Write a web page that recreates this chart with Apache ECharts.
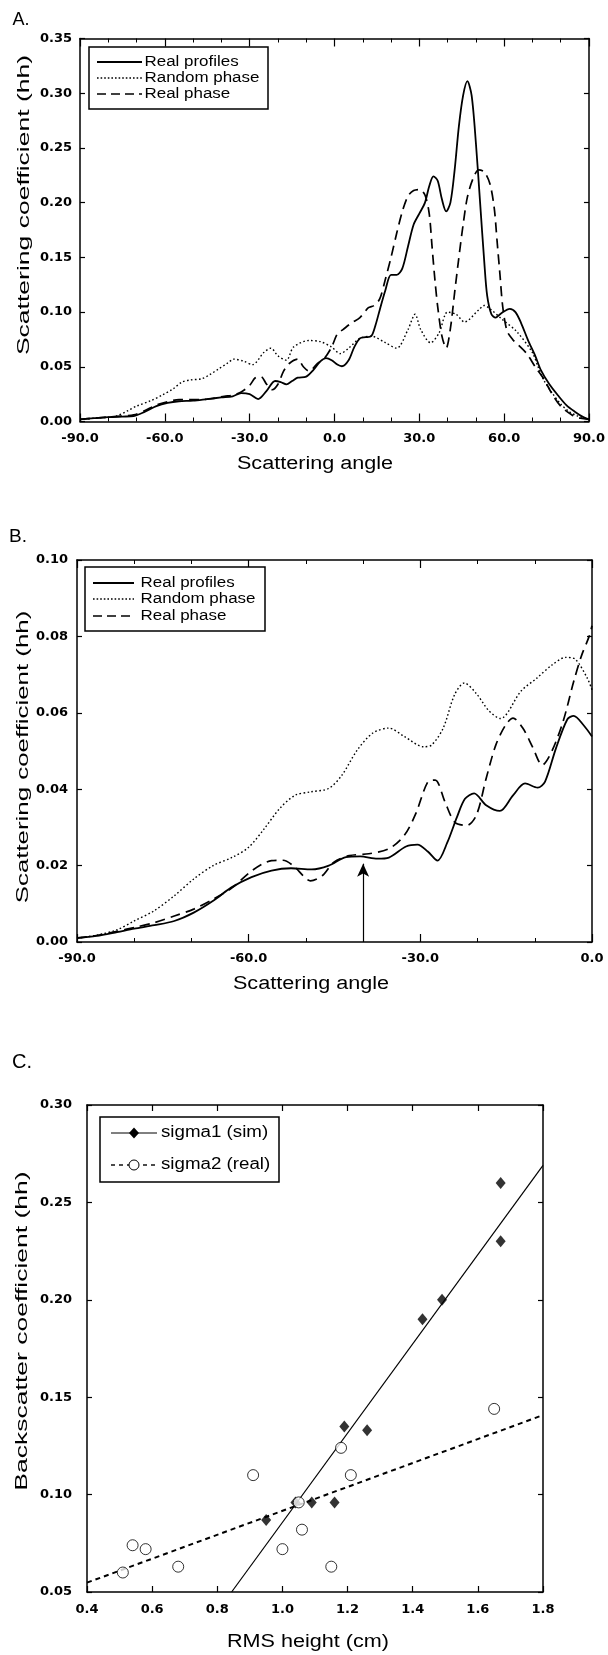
<!DOCTYPE html>
<html>
<head>
<meta charset="utf-8">
<script src="https://cdn.jsdelivr.net/npm/echarts/dist/echarts.min.js"></script>
<style>
html,body{margin:0;padding:0;background:#fff;}
#chart{width:608px;height:1655px;}
</style>
</head>
<body>
<div id="chart"></div>
<script>
// ---------- Panel A : scattering coefficient vs angle (-90..90) ----------
const aRealProfiles = [[-90,0.002],[-85,0.003],[-80,0.004],[-75,0.0045],[-71,0.005],[-67,0.009],[-63,0.014],[-59,0.017],[-55,0.0185],[-50,0.019],[-45,0.0205],[-40,0.022],[-36,0.023],[-33,0.026],[-30,0.025],[-27,0.0205],[-24,0.028],[-21,0.037],[-19,0.036],[-17,0.034],[-15,0.037],[-13,0.040],[-10,0.041],[-7.5,0.047],[-5,0.055],[-3,0.058],[-1,0.056],[1,0.052],[2.6,0.0505],[5,0.056],[7,0.068],[9,0.076],[11,0.077],[13,0.078],[14.5,0.088],[16,0.102],[18,0.12],[20,0.134],[22,0.134],[24,0.14],[26,0.16],[28,0.18],[30,0.19],[32,0.20],[33.5,0.215],[35,0.224],[36.5,0.22],[38,0.203],[39.5,0.192],[41,0.2],[42.5,0.23],[44,0.27],[45.5,0.298],[47,0.311],[48.5,0.298],[50,0.255],[51.5,0.2],[53,0.145],[54,0.115],[55.5,0.098],[57,0.095],[59,0.099],[62,0.103],[64,0.1],[66,0.09],[68.5,0.074],[71,0.06],[73,0.047],[76,0.034],[79,0.024],[82,0.015],[85,0.009],[88,0.004],[90,0.002]];
const aRandomPhase = [[-90,0.002],[-85,0.003],[-80,0.004],[-77,0.005],[-73,0.01],[-70,0.014],[-65,0.019],[-61,0.024],[-57,0.03],[-54,0.036],[-51,0.038],[-47,0.039],[-44,0.043],[-41,0.048],[-38,0.053],[-35.5,0.057],[-32,0.055],[-29,0.052],[-25,0.063],[-22.5,0.067],[-20,0.06],[-17,0.056],[-14.5,0.068],[-9,0.074],[-5,0.073],[-1,0.068],[2,0.062],[5,0.067],[9,0.076],[13,0.078],[18,0.072],[22,0.067],[26,0.084],[28.5,0.098],[30.5,0.084],[34,0.072],[37,0.081],[40,0.10],[43,0.098],[46,0.091],[51,0.102],[53,0.106],[55,0.103],[59,0.094],[64.5,0.082],[70,0.063],[72,0.05],[74,0.038],[77,0.026],[80,0.016],[83,0.009],[86,0.005],[90,0.002]];
const aRealPhase = [[-90,0.002],[-85,0.003],[-80,0.004],[-75,0.005],[-71,0.006],[-67,0.01],[-63,0.015],[-59,0.018],[-55,0.02],[-51,0.02],[-47,0.02],[-43,0.021],[-39,0.023],[-36,0.024],[-33,0.027],[-30,0.033],[-28,0.04],[-26,0.041],[-24,0.034],[-22,0.029],[-20,0.034],[-18,0.046],[-16,0.053],[-13,0.057],[-11,0.05],[-9,0.046],[-6,0.053],[-3.5,0.058],[-1,0.068],[1,0.08],[3,0.084],[6,0.09],[9,0.095],[12,0.104],[14,0.106],[16,0.112],[18,0.13],[20,0.15],[22,0.172],[24,0.192],[26,0.206],[28,0.211],[30,0.212],[32,0.207],[33.5,0.19],[34.5,0.16],[35.5,0.13],[36.5,0.105],[38,0.078],[39.5,0.067],[41,0.085],[42.5,0.118],[44,0.15],[45.5,0.18],[47,0.205],[49,0.222],[51,0.23],[53,0.228],[55,0.217],[56.5,0.195],[57.5,0.165],[58.5,0.135],[59.5,0.105],[61,0.083],[63,0.075],[65,0.07],[68,0.062],[71,0.05],[74,0.039],[77,0.025],[80,0.014],[84,0.006],[87,0.003],[90,0.002]];

// ---------- Panel B : zoom on -90..0 ----------
const bRealProfiles = [[-90,0.0011],[-86.6,0.0016],[-83,0.0026],[-80,0.0035],[-76.5,0.0044],[-73,0.0055],[-69.6,0.0077],[-66,0.011],[-63,0.0143],[-59.5,0.017],[-56,0.0187],[-52.6,0.0193],[-49,0.019],[-46,0.020],[-43,0.0222],[-40.5,0.0224],[-37.5,0.0218],[-35.5,0.0221],[-32.5,0.025],[-30.5,0.0255],[-28.7,0.0237],[-27,0.0213],[-25.3,0.026],[-23.6,0.0327],[-22.2,0.0375],[-20.6,0.0389],[-18.5,0.0358],[-16.1,0.0343],[-13.8,0.0384],[-11.7,0.0415],[-9.5,0.0404],[-8.2,0.042],[-6.3,0.0507],[-4.3,0.0583],[-3.2,0.0592],[-1.5,0.0568],[0,0.0538]];
const bRandomPhase = [[-90,0.001],[-86.5,0.0018],[-83,0.0032],[-80,0.0055],[-76.5,0.0082],[-73,0.0121],[-69.6,0.0165],[-66.2,0.02],[-62.8,0.0222],[-60,0.0248],[-57.3,0.0296],[-54.6,0.0349],[-51.9,0.0384],[-49.2,0.0393],[-46,0.0402],[-43.7,0.0437],[-41,0.0503],[-38.3,0.0547],[-35.5,0.056],[-32.8,0.0538],[-29.4,0.0511],[-28,0.0516],[-26,0.056],[-24,0.0648],[-22.3,0.0678],[-20.2,0.065],[-18,0.0605],[-16,0.0585],[-12.4,0.0657],[-9.7,0.069],[-7,0.0725],[-4.6,0.0745],[-2.9,0.074],[-0.8,0.069],[0,0.066]];
const bRealPhase = [[-90,0.001],[-86.6,0.0017],[-83,0.0028],[-80,0.0038],[-76.4,0.0051],[-73,0.0068],[-69.6,0.0086],[-66.2,0.0112],[-62.8,0.0143],[-59.4,0.0187],[-56,0.0213],[-54,0.0214],[-52,0.0197],[-50.5,0.0174],[-49.2,0.016],[-47.1,0.0174],[-45.1,0.0209],[-42.4,0.0226],[-39,0.0231],[-35.5,0.0244],[-32.8,0.0279],[-30.8,0.0336],[-28.7,0.0419],[-27.4,0.0424],[-25.7,0.0367],[-24,0.0314],[-21.9,0.0305],[-20.2,0.0332],[-18.5,0.0428],[-16.8,0.0516],[-15.1,0.0568],[-13.8,0.0586],[-12.1,0.056],[-10.4,0.0511],[-8.7,0.0463],[-7,0.05],[-5,0.058],[-3.2,0.0682],[-1.8,0.0751],[-0.5,0.080],[0,0.0828]];
const bArrow = [[-40, 0], [-40, 0.0205]];

// ---------- Panel C : backscatter vs RMS height ----------
const cSigma1 = [[0.95,0.087],[1.04,0.096],[1.09,0.096],[1.16,0.096],[1.19,0.135],[1.26,0.133],[1.43,0.19],[1.49,0.20],[1.67,0.23],[1.67,0.26]];
const cSigma2 = [[0.51,0.060],[0.54,0.074],[0.58,0.072],[0.68,0.063],[0.91,0.11],[1.0,0.072],[1.05,0.096],[1.06,0.082],[1.15,0.063],[1.18,0.124],[1.21,0.11],[1.65,0.144]];
const cFit1 = [[0.844,0.05],[1.8,0.269]];
const cFit2 = [[0.4,0.0548],[1.8,0.1408]];

const legendAB = ['Real profiles', 'Random phase', 'Real phase'];
const legendC = ['sigma1 (sim)', 'sigma2 (real)'];
const panelLabels = ['A.', 'B.', 'C.'];
const angleName = 'Scattering angle';
const coefName = 'Scattering coefficient (hh)';
const backName = 'Backscatter coefficient (hh)';
const rmsName = 'RMS height (cm)';

// ---------- styling helpers ----------
const INK = '#000';
const DOT = [1.6, 2.4];
const DASH = [10, 6];
const tickFont = {color: INK, fontFamily: 'DejaVu Sans', fontWeight: 'bold', fontSize: 13};

function xPair(g, min, max, interval, dec, margin, minor, tickLen) {
  const base = {
    type: 'value', gridIndex: g, min: min, max: max, interval: interval,
    axisLine: {show: true, onZero: false, lineStyle: {color: INK, width: 1.5}},
    axisTick: {show: true, inside: true, length: tickLen, lineStyle: {color: INK, width: 1.2}},
    minorTick: {show: minor, splitNumber: 3, length: 4, lineStyle: {color: INK, width: 1}},
    splitLine: {show: false}, minorSplitLine: {show: false}
  };
  return [
    Object.assign({}, base, {position: 'bottom',
      axisLabel: Object.assign({show: true, margin: margin, formatter: v => v.toFixed(dec)}, tickFont)}),
    Object.assign({}, base, {position: 'top', axisLabel: {show: false}})
  ];
}
function yPair(g, min, max, interval, dec, margin) {
  const base = {
    type: 'value', gridIndex: g, min: min, max: max, interval: interval,
    axisLine: {show: true, onZero: false, lineStyle: {color: INK, width: 1.5}},
    axisTick: {show: true, inside: true, length: 5, lineStyle: {color: INK, width: 1.2}},
    splitLine: {show: false}
  };
  return [
    Object.assign({}, base, {position: 'left',
      axisLabel: Object.assign({show: true, margin: margin, formatter: v => v.toFixed(dec)}, tickFont)}),
    Object.assign({}, base, {position: 'right', axisLabel: {show: false}})
  ];
}
function curve(xi, yi, data, dash, width) {
  return {type: 'line', xAxisIndex: xi, yAxisIndex: yi, data: data, showSymbol: false,
    smooth: 0.3, silent: true, lineStyle: {color: INK, width: width, type: dash}};
}
function txt(text, x, y, font, opt) {
  opt = opt || {};
  return {type: 'text', x: x, y: y, silent: true, z: 100,
    scaleX: opt.sx || 1, scaleY: opt.sy || 1, rotation: opt.rot || 0,
    style: {text: text, x: 0, y: 0, font: font, fill: INK,
      textAlign: opt.align || 'center', textVerticalAlign: 'middle',
      align: opt.align || 'center', verticalAlign: 'middle'}};
}
function seg(x1, y1, x2, y2, dash, w) {
  return {type: 'line', silent: true, z: 100, shape: {x1: x1, y1: y1, x2: x2, y2: y2},
    style: {stroke: INK, lineWidth: w, lineDash: dash || null}};
}
function box(x, y, w, h) {
  return {type: 'rect', silent: true, z: 99, shape: {x: x, y: y, width: w, height: h},
    style: {fill: '#fff', stroke: INK, lineWidth: 1.5}};
}
function lineLegend(x, y, w, h, rows, sx, textX, lineX1, lineX2) {
  const styles = [[null, 1.8], [[1.6, 2], 1.4], [[9, 5], 1.6]];
  const els = [box(x, y, w, h)];
  rows.forEach((r, i) => {
    els.push(seg(lineX1, r, lineX2, r, styles[i][0], styles[i][1]));
    els.push(txt(legendAB[i], textX, r, '14px "Liberation Sans"', {align: 'left', sx: sx}));
  });
  return els;
}

const xA = xPair(0, -90, 90, 30, 1, 11, true, 8);
const xB = xPair(1, -90, 0, 30, 1, 10, true, 8);
const xC = xPair(2, 0.4, 1.8, 0.2, 1, 11, false, 6);
const yA = yPair(0, 0, 0.35, 0.05, 2, 8);
const yB = yPair(1, 0, 0.10, 0.02, 2, 9);
const yC = yPair(2, 0.05, 0.30, 0.05, 2, 15);

const graphics = [].concat(
  [txt(panelLabels[0], 21, 20, '18px "Liberation Sans"'),
   txt(panelLabels[1], 18, 537, '19px "Liberation Sans"'),
   txt(panelLabels[2], 22, 1062, '20px "Liberation Sans"'),
   txt(angleName, 315, 464, '18px "Liberation Sans"', {sx: 1.2}),
   txt(angleName, 311, 984, '18px "Liberation Sans"', {sx: 1.2}),
   txt(rmsName, 308, 1642, '18px "Liberation Sans"', {sx: 1.2}),
   txt(coefName, 24, 205, '17px "Liberation Sans"', {sx: 1.56, rot: Math.PI / 2}),
   txt(coefName, 23, 757, '17px "Liberation Sans"', {sx: 1.52, rot: Math.PI / 2}),
   txt(backName, 22, 1331, '17px "Liberation Sans"', {sx: 1.56, rot: Math.PI / 2})],
  lineLegend(89, 47, 179, 62, [62, 78, 94], 1.21, 144.5, 97, 142),
  lineLegend(85, 567, 180, 64, [583, 599, 616], 1.21, 140.6, 93, 134),
  [box(100, 1117, 179, 65),
   seg(111, 1133, 157, 1133, null, 1),
   {type: 'polygon', silent: true, z: 101, shape: {points: [[134, 1127.5], [139, 1133], [134, 1138.5], [129, 1133]]}, style: {fill: INK}},
   txt(legendC[0], 161, 1133, '16px "Liberation Sans"', {align: 'left', sx: 1.17}),
   seg(111, 1165, 157, 1165, [4, 4], 1.4),
   {type: 'circle', silent: true, z: 101, shape: {cx: 134, cy: 1165, r: 5}, style: {fill: '#fff', stroke: INK, lineWidth: 1}},
   txt(legendC[1], 161, 1165, '16px "Liberation Sans"', {align: 'left', sx: 1.17})]
);

const option = {
  animation: false,
  backgroundColor: '#fff',
  grid: [
    {left: 80, top: 38.5, width: 512, height: 383},
    {left: 77, top: 560, width: 515, height: 382},
    {left: 87, top: 1105, width: 456, height: 487}
  ],
  xAxis: [].concat(xA, xB, xC),
  yAxis: [].concat(yA, yB, yC),
  series: [
    curve(0, 0, aRandomPhase, DOT, 1.4),
    curve(0, 0, aRealPhase, DASH, 1.7),
    curve(0, 0, aRealProfiles, 'solid', 1.8),
    curve(2, 2, bRandomPhase, DOT, 1.4),
    curve(2, 2, bRealPhase, DASH, 1.7),
    Object.assign(curve(2, 2, bRealProfiles, 'solid', 1.8), {
      markLine: {silent: true, symbol: ['none', 'arrow'], symbolSize: [9, 13],
        label: {show: false}, lineStyle: {color: INK, width: 1.2, type: 'solid'},
        data: [[{coord: bArrow[0]}, {coord: bArrow[1]}]]}
    }),
    {type: 'line', xAxisIndex: 4, yAxisIndex: 4, data: cFit2, showSymbol: false, silent: true,
      lineStyle: {color: INK, width: 2, type: [5, 4]}},
    {type: 'line', xAxisIndex: 4, yAxisIndex: 4, data: cFit1, showSymbol: false, silent: true,
      lineStyle: {color: INK, width: 1.2}},
    {type: 'scatter', xAxisIndex: 4, yAxisIndex: 4, data: cSigma1, symbol: 'diamond', symbolSize: [10, 12],
      silent: true, itemStyle: {color: INK}, z: 3},
    {type: 'scatter', xAxisIndex: 4, yAxisIndex: 4, data: cSigma2, symbol: 'circle', symbolSize: 11,
      silent: true, itemStyle: {color: '#fff', borderColor: INK, borderWidth: 1}, z: 4}
  ],
  graphic: graphics
};

const chart = echarts.init(document.getElementById('chart'), null, {renderer: 'canvas'});
chart.setOption(option);
</script>
</body>
</html>
